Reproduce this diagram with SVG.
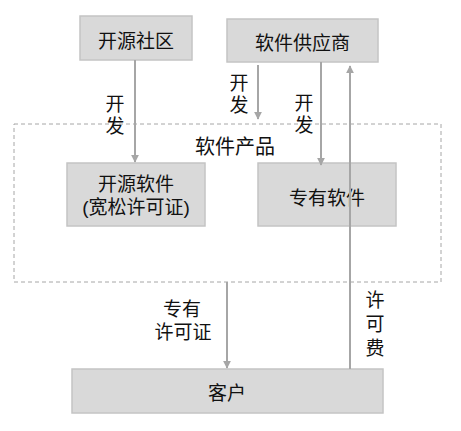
<svg xmlns="http://www.w3.org/2000/svg" width="461" height="431" viewBox="0 0 461 431">
<style>
.box{fill:#d9d9d9;stroke:#c4c4c4;stroke-width:1.5}
.t{font-family:"Noto Sans CJK SC","Liberation Sans",sans-serif;font-size:19px;fill:#111;text-anchor:middle;dominant-baseline:central}
.t2{font-family:"Liberation Sans","Noto Sans CJK SC",sans-serif;font-size:19px;fill:#111;text-anchor:middle;dominant-baseline:central}
.v{font-family:"Noto Sans CJK SC","Liberation Sans",sans-serif;font-size:19px;fill:#111;text-anchor:middle;writing-mode:vertical-rl;letter-spacing:3px}
.c{stroke:#a6a6a6;stroke-width:2;fill:none}
</style>
<defs>
<marker id="ah" viewBox="0 0 10 10" refX="9" refY="5" markerWidth="4" markerHeight="4" orient="auto" markerUnits="strokeWidth">
<path d="M0,0 L10,5 L0,10 z" fill="#a6a6a6"/>
</marker>
</defs>
<rect width="461" height="431" fill="#fff"/>
<g id="container">
<rect x="14" y="124" width="427" height="158" fill="none" stroke="#a6a6a6" stroke-width="1" stroke-dasharray="4 3"/>
<text class="t" x="235" y="145" style="font-size:20px">软件产品</text>
</g>
<g id="n-community"><rect class="box" x="80" y="16" width="112" height="44"/><text class="t" x="136" y="39">开源社区</text></g>
<g id="n-vendor"><rect class="box" x="227" y="19" width="151" height="43"/><text class="t" x="302.5" y="41">软件供应商</text></g>
<g id="n-oss"><rect class="box" x="67" y="163" width="138" height="63"/><text class="t2" x="136" y="184">开源软件<tspan x="136" dy="23">(宽松许可证)</tspan></text></g>
<g id="n-prop"><rect class="box" x="258" y="163" width="138" height="63"/><text class="t" x="327" y="196">专有软件</text></g>
<g id="n-customer"><rect class="box" x="72" y="369" width="311" height="44"/><text class="t" x="227" y="391">客户</text></g>
<g id="connectors">
<line class="c" x1="135" y1="60" x2="135" y2="162" marker-end="url(#ah)"/>
<line class="c" x1="258" y1="65" x2="258" y2="119" marker-end="url(#ah)"/>
<line class="c" x1="321" y1="62" x2="321" y2="165" marker-end="url(#ah)"/>
<line class="c" x1="350" y1="369" x2="350" y2="66" marker-end="url(#ah)"/>
<line class="c" x1="227" y1="282" x2="227" y2="368" marker-end="url(#ah)"/>
<text class="v" x="115" y="116">开发</text>
<text class="v" x="239" y="95">开发</text>
<text class="v" x="304" y="115">开发</text>
<text class="t2" x="182" y="309">专有<tspan x="183" dy="23">许可证</tspan></text>
<text class="v" x="375" y="326" style="letter-spacing:5px">许可费</text>
</g>
</svg>
